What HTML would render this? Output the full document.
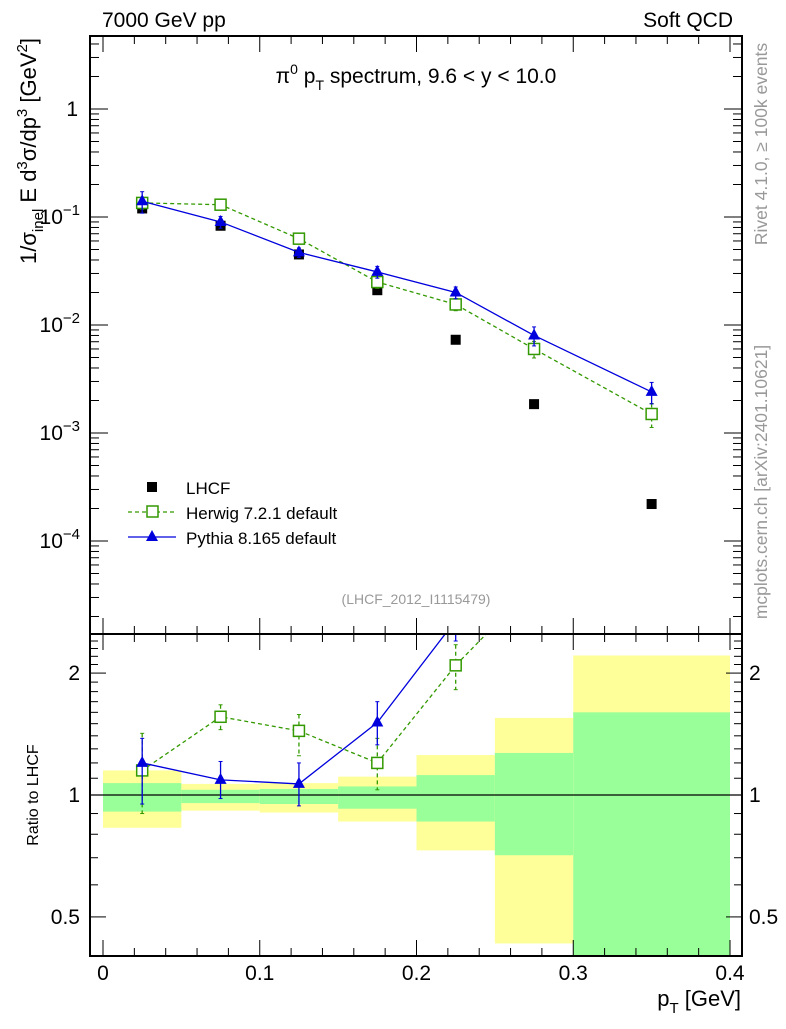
<!DOCTYPE html>
<html><head><meta charset="utf-8"><style>
body{margin:0;background:#fff;font-family:"Liberation Sans",sans-serif}
</style></head><body>
<svg id="c" width="786" height="1024" xmlns="http://www.w3.org/2000/svg" font-family="Liberation Sans, sans-serif">
<g id="g"></g>
</svg>
<script>
const binEdges=[0,0.05,0.1,0.15,0.2,0.25,0.3,0.4];
const xCenters=[0.025,0.075,0.125,0.175,0.225,0.275,0.35];
const lhcf=[0.12,0.083,0.045,0.021,0.0073,0.00185,0.00022];
const herwig=[0.135,0.13,0.063,0.025,0.0155,0.006,0.0015];
const herwigErr=[0.25,0.15,0.2,0.25,0.25,0.35,0.5];
const pythia=[0.14,0.09,0.047,0.031,0.02,0.008,0.0024];
const pythiaErr=[0.45,0.25,0.2,0.25,0.25,0.4,0.45];
const bandYellowHi=[1.15,1.065,1.07,1.11,1.255,1.55,2.21];
const bandYellowLo=[0.83,0.915,0.905,0.86,0.73,0.43,0.3];
const bandGreenHi=[1.07,1.03,1.035,1.05,1.12,1.27,1.6];
const bandGreenLo=[0.91,0.955,0.95,0.925,0.86,0.71,0.3];
const herwigRatio=[1.15,1.56,1.44,1.2,2.09,3.3,6.8];
const herwigRatioLo=[0.9,1.45,1.25,1.03,1.82,3,6];
const herwigRatioHi=[1.42,1.67,1.58,1.38,2.35,3.6,7.5];
const pythiaRatio=[1.2,1.09,1.065,1.51,2.7,4.3,10.9];
const pythiaRatioLo=[0.95,0.98,0.94,1.33,2.4,3.8,9.5];
const pythiaRatioHi=[1.38,1.21,1.2,1.7,3,4.8,12];
const xTicks=[0,0.1,0.2,0.3,0.4];

const X=v=>103+v*1567.5;
const Y=v=>109-108*Math.log10(v);
const R=v=>795-405*Math.log10(v);
const NS="http://www.w3.org/2000/svg";
const g=document.getElementById('g');
function mk(t,a,txt){const e=document.createElementNS(NS,t);for(const k in a)e.setAttribute(k,a[k]);if(txt!==undefined)e.textContent=txt;g.appendChild(e);return e;}
const L=90,Rt=742,T=36,B=634,RB=956;
const defs=document.createElementNS(NS,'defs');defs.innerHTML='<clipPath id="cm"><rect x="90" y="36" width="652" height="598"/></clipPath><clipPath id="cr"><rect x="90" y="634" width="652" height="322"/></clipPath>';g.appendChild(defs);
const gm=document.createElementNS(NS,'g');gm.setAttribute('clip-path','url(#cm)');
const gr=document.createElementNS(NS,'g');gr.setAttribute('clip-path','url(#cr)');
function mk2(p,t,a){const e=document.createElementNS(NS,t);for(const k in a)e.setAttribute(k,a[k]);p.appendChild(e);return e;}
for(let i=0;i<7;i++){
 const x0=X(binEdges[i]),x1=X(binEdges[i+1]);
 let e=mk2(gr,'rect',{x:x0,y:R(bandYellowHi[i]),width:x1-x0,height:R(bandYellowLo[i])-R(bandYellowHi[i]),fill:'#ffff99'});
 
 
 e=mk2(gr,'rect',{x:x0,y:R(bandGreenHi[i]),width:x1-x0,height:R(bandGreenLo[i])-R(bandGreenHi[i]),fill:'#99ff99'});
 
 
}
mk2(gr,'line',{x1:L,x2:Rt,y1:R(1),y2:R(1),stroke:'#000','stroke-width':1.3});
g.appendChild(gm);g.appendChild(gr);
function series(p,vals,f,color,dash,marker,name,lo,hi){
 let pts=xCenters.map((x,i)=>X(x)+','+f(vals[i])).join(' ');
 const pl=mk2(p,'polyline',{points:pts,fill:'none',stroke:color,'stroke-width':1.3,'stroke-dasharray':dash});
 
 
 xCenters.forEach((x,i)=>{
  const cx=X(x),cy=f(vals[i]);
  const eb=mk2(p,'line',{x1:cx,x2:cx,y1:f(hi[i]),y2:f(lo[i]),stroke:color,'stroke-width':1.3,'stroke-dasharray':dash});
  
  
  mk2(p,'line',{x1:cx-2,x2:cx+2,y1:f(hi[i]),y2:f(hi[i]),stroke:color});
  mk2(p,'line',{x1:cx-2,x2:cx+2,y1:f(lo[i]),y2:f(lo[i]),stroke:color});
  let m;
  if(marker==='sq') m=mk2(p,'rect',{x:cx-5.5,y:cy-5.5,width:11,height:11,fill:'#fff',stroke:color,'stroke-width':1.5});
  else m=mk2(p,'polygon',{points:`${cx},${cy-7} ${cx-6},${cy+4} ${cx+6},${cy+4}`,fill:color});
  
  
 });
}
xCenters.forEach((x,i)=>{const e=mk2(gm,'rect',{x:X(x)-5,y:Y(lhcf[i])-5,width:10,height:10,fill:'#000'});
 
 });
series(gm,herwig,Y,'#339900','4,3','sq','herwig',herwig.map((v,i)=>v*(1-herwigErr[i]/2)),herwig.map((v,i)=>v*(1+herwigErr[i]/2)));
series(gm,pythia,Y,'#0000dd','','tri','pythia',pythia.map((v,i)=>v*(1-pythiaErr[i]/2)),pythia.map((v,i)=>v*(1+pythiaErr[i]/2)));
series(gr,herwigRatio,R,'#339900','4,3','sq','herwig-ratio',herwigRatioLo,herwigRatioHi);
series(gr,pythiaRatio,R,'#0000dd','','tri','pythia-ratio',pythiaRatioLo,pythiaRatioHi);
mk('rect',{x:L,y:T,width:Rt-L,height:B-T,fill:'none',stroke:'#000','stroke-width':2});
mk('rect',{x:L,y:B,width:Rt-L,height:RB-B,fill:'none',stroke:'#000','stroke-width':2});
for(let v=0;v<=0.4001;v+=0.02){const big=Math.abs(v*10-Math.round(v*10))<1e-6;const h=big?16:8;
 [[T,1],[B,1],[B,-1],[RB,-1]].forEach(([y,d])=>mk('line',{x1:X(v),x2:X(v),y1:y,y2:y+d*h,stroke:'#000'}));}
xTicks.forEach(v=>{const e=mk('text',{x:X(v),y:980,'font-size':21,'text-anchor':'middle'},String(v));
 
 });
for(let d=-5;d<=0;d++)for(let m=1;m<10;m++){const v=m*Math.pow(10,d);const y=Y(v);if(y<T||y>B)continue;const h=m===1?18:9;
 mk('line',{x1:L,x2:L+h,y1:y,y2:y,stroke:'#000'});mk('line',{x1:Rt,x2:Rt-h,y1:y,y2:y,stroke:'#000'});}
[[0,'1'],[-1,'10'],[-2,'10'],[-3,'10'],[-4,'10']].forEach(([d,t])=>{const y=Y(Math.pow(10,d))+7;
 if(d===0){mk('text',{x:78,y:y,'font-size':21,'text-anchor':'end'},'1');}
 else{const e=mk('text',{x:80,y:y,'font-size':21,'text-anchor':'end'});e.innerHTML='10<tspan dy="-9" font-size="15">−'+(-d)+'</tspan>';}});
for(let v=0.4;v<=2.5;v+=0.1){const y=R(v);if(y<B||y>RB)continue;const big=[0.5,1,2].some(q=>Math.abs(q-v)<1e-6);const h=big?16:8;
 mk('line',{x1:L,x2:L+h,y1:y,y2:y,stroke:'#000'});mk('line',{x1:Rt,x2:Rt-h,y1:y,y2:y,stroke:'#000'});}
[[2,'2'],[1,'1'],[0.5,'0.5']].forEach(([v,t])=>{mk('text',{x:80,y:R(v)+7,'font-size':21,'text-anchor':'end'},t);mk('text',{x:749,y:R(v)+7,'font-size':21},t);});
</script>
<svg width="786" height="1024" style="position:absolute;left:0;top:0" font-family="Liberation Sans, sans-serif">
<text x="102" y="27" font-size="21">7000 GeV pp</text>
<text x="733" y="27" font-size="21" text-anchor="end">Soft QCD</text>
<text x="416" y="83" font-size="21" text-anchor="middle">π<tspan dy="-9" font-size="14">0</tspan><tspan dy="9"> p</tspan><tspan dy="7" font-size="14">T</tspan><tspan dy="-7"> spectrum, 9.6 &lt; y &lt; 10.0</tspan></text>
<g>
<rect x="147" y="482" width="10" height="10" fill="#000"/>
<text x="186" y="494" font-size="17">LHCF</text>
<line x1="128" x2="176" y1="512" y2="512" stroke="#339900" stroke-dasharray="4,3" stroke-width="1.3"/>
<rect x="147" y="506" width="11" height="11" fill="#fff" stroke="#339900" stroke-width="1.5"/>
<text x="186" y="519" font-size="17">Herwig 7.2.1 default</text>
<line x1="128" x2="176" y1="537" y2="537" stroke="#0000dd" stroke-width="1.3"/>
<polygon points="152,530 146,541 158,541" fill="#0000dd"/>
<text x="186" y="544" font-size="17">Pythia 8.165 default</text>
</g>
<text x="416" y="604" font-size="14" fill="#999" text-anchor="middle">(LHCF_2012_I1115479)</text>
<text transform="translate(36,151) rotate(-90)" font-size="22" text-anchor="middle">1/σ<tspan dy="7" font-size="15">inel</tspan><tspan dy="-7"> E d</tspan><tspan dy="-9" font-size="15">3</tspan><tspan dy="9">σ/dp</tspan><tspan dy="-9" font-size="15">3</tspan><tspan dy="9"> [GeV</tspan><tspan dy="-9" font-size="15">2</tspan><tspan dy="9">]</tspan></text>
<text transform="translate(38,795) rotate(-90)" font-size="16" text-anchor="middle">Ratio to LHCF</text>
<text x="741" y="1006" font-size="22" text-anchor="end">p<tspan dy="7" font-size="15">T</tspan><tspan dy="-7"> [GeV]</tspan></text>
<text transform="translate(767,144) rotate(-90)" font-size="17.5" fill="#999" text-anchor="middle">Rivet 4.1.0, ≥ 100k events</text>
<text transform="translate(767,482) rotate(-90)" font-size="17.5" fill="#999" text-anchor="middle">mcplots.cern.ch [arXiv:2401.10621]</text>
</svg>
</body></html>
